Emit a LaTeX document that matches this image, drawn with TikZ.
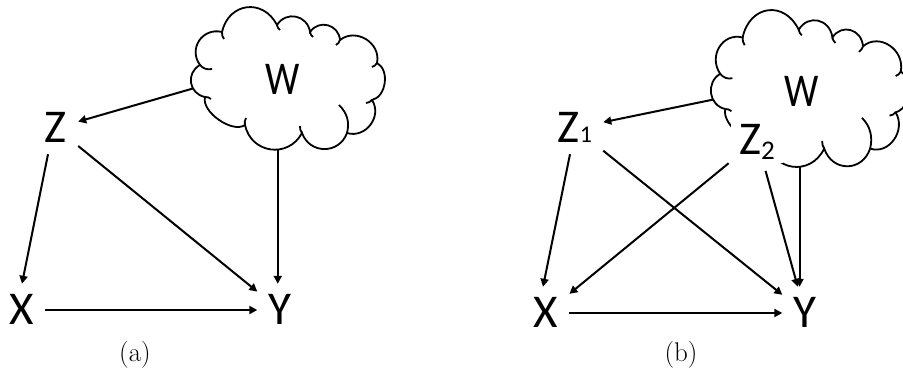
\documentclass[tikz,border=0pt]{standalone}
\usepackage{fontspec}
\newfontfamily\varfont{Carlito}
\usetikzlibrary{arrows.meta,calc}

% Cloud outline in local coordinates (origin at its top-left corner).
% #1 is a prefix for the named points on the outline.
\newcommand\drawcloud[1]{%
  \draw[cloudline]
    (15,90) to[bump] coordinate[pos=0.35] (#1l) (10,58)
    to[bump] (32,25) to[bump=1.4] (87,18) to[bump] (120,25)
    to[bump] (150,33) to[bump=1.2] (187,56) to[bump=1.0] (182,93)
    to[bump=1.2] (157,126) to[bump] (112,126)
    to[bump] coordinate[pos=0.4] (#1b) (55,118)
    to[bump=0.8] (15,90);
  % small inner hooks where the puffs meet
  \draw[cloudline]
    (10,58) to[bend right=30] (22,62)
    (32,25) to[bend right=20] (34,32)
    (87,18) to[bend right=20] (90,23)
    (120,25) to[bend right=20] (123,30)
    (150,33) to[bend left=20] (146,38)
    (187,56) to[bend left=20] (182,60)
    (182,93) to[bend left=20] (176,96)
    (157,126) to[bend right=30] (149,98)
    (112,126) to[bend left=20] (110,119)
    (55,118) to[bend left=20] (56,111)
    (15,90) to[bend left=20] (21,92);
}

\begin{document}
\begin{tikzpicture}[x=1pt,y=-1pt,
  var/.style={font=\varfont\fontsize{47}{50}\selectfont, text height=30pt,
    text depth=0pt, inner sep=11pt, anchor=base},
  wlabel/.style={var, xscale=0.82},
  edge/.style={line width=2pt, -{Triangle[length=8pt,width=8pt]}},
  cloudline/.style={line width=1.8pt},
  bump/.style={bend left=70, looseness=#1}, bump/.default=1.3,
  panellabel/.style={font=\fontsize{27}{30}\selectfont, anchor=base}]
\useasboundingbox (0,0) rectangle (903,371);
\clip (0,0) rectangle (903,371);

% ---------- left graph ----------
\begin{scope}[shift={(190,7)}]
  \drawcloud{ca}
\end{scope}
\node[wlabel] (Wa) at (283,95) {W};
\node[var] (Za) at (56,143) {Z};
\node[var] (Xa) at (22,325) {X};
\node[var] (Ya) at (280,325) {Y};

\draw[edge] (cal) -- (Za);
\draw[edge] ([xshift=-8pt]Za.south) -- (Xa.north);
\draw[edge] (Za) -- (Ya);
\draw[edge] (Xa) -- (Ya);
\draw[edge] (cab) -- (cab |- Ya.north);
\node[panellabel] (capa) at (135,362) {(a)};

% ---------- right graph ----------
\begin{scope}[shift={(710,10)}, xscale=1.02, yscale=1.1]
  \drawcloud{cb}
\end{scope}
\node[wlabel] (Wb) at (802,107) {W};
\node[var] (Z1) at (575,143) {Z\fontsize{24}{26}\selectfont 1};
\node[var, fill=white, inner sep=8pt] (Z2) at (757,155)
  {Z\raisebox{-5pt}{\fontsize{27}{30}\selectfont 2}};
\node[var] (Xb) at (546,328) {X};
\node[var] (Yb) at (805,328) {Y};

\draw[edge] (cbl) -- (Z1);
\draw[edge] ([xshift=-5pt]Z1.south) -- ([xshift=-3pt]Xb.north);
\draw[edge] (Z1) -- (Yb);
\draw[edge, shorten <=3pt] (Z2) -- (Xb);
\draw[edge, shorten <=8pt] (Z2) -- (Yb);
\draw[edge] (cbb) -- (cbb |- Yb.north);
\draw[edge] (Xb) -- (Yb);
\node[panellabel] (capb) at (681,362) {(b)};
\end{tikzpicture}
\end{document}
